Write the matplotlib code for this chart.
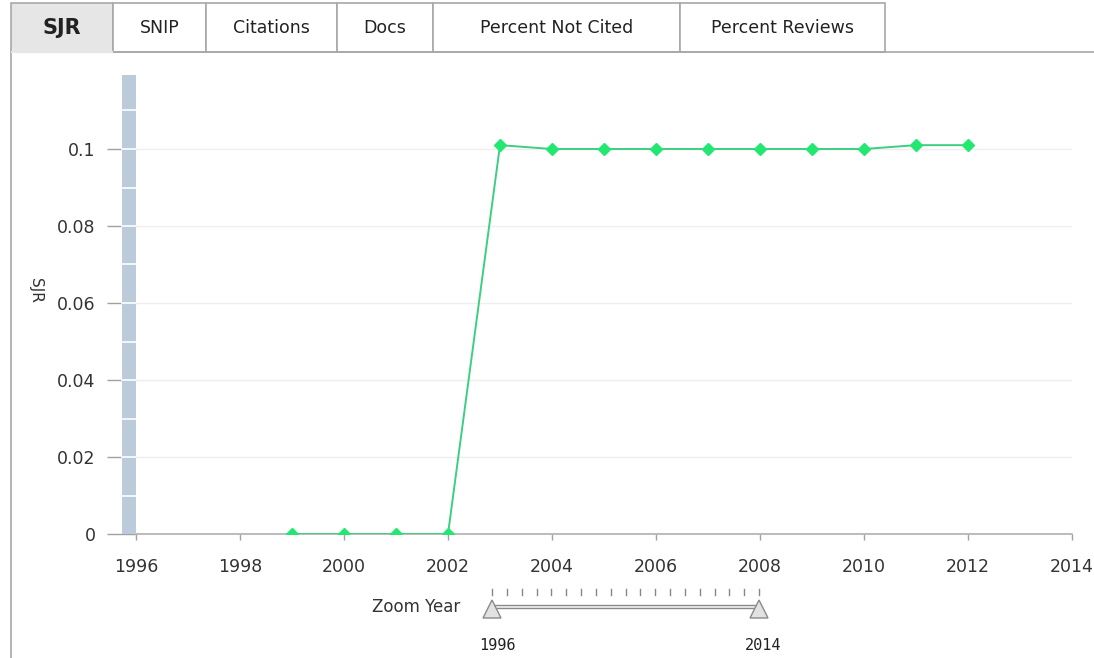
import matplotlib
matplotlib.use("Agg")
import matplotlib.pyplot as plt
from matplotlib.patches import Rectangle, Polygon
from matplotlib.lines import Line2D

# data
years = [1999, 2000, 2001, 2002, 2003, 2004, 2005, 2006, 2007, 2008, 2009, 2010, 2011, 2012]
sjr = [0, 0, 0, 0, 0.101, 0.1, 0.1, 0.1, 0.1, 0.1, 0.1, 0.1, 0.101, 0.101]
x_ticks = list(range(1996, 2015, 2))
y_ticks = [0, 0.02, 0.04, 0.06, 0.08, 0.1]
y_tick_labels = ['0', '0.02', '0.04', '0.06', '0.08', '0.1']
tabs = ['SJR', 'SNIP', 'Citations', 'Docs', 'Percent Not Cited', 'Percent Reviews']
zoom_start, zoom_end = 1996, 2014

W, H = 1094, 658
fig = plt.figure(figsize=(W / 100, H / 100), dpi=100)
plt.rcParams['font.family'] = ['DejaVu Sans']


def fx(x):
    return x / W


def fy(y):
    return 1 - y / H


# tabs along the top
tab_edges = [11, 113, 206, 337, 433, 680, 885]
for i, name in enumerate(tabs):
    x0, x1 = tab_edges[i], tab_edges[i + 1]
    active = i == 0
    fig.patches.append(Rectangle((fx(x0), fy(52)), fx(x1 - x0), 49 / H, transform=fig.transFigure,
                                 facecolor='#e6e6e6' if active else 'white', edgecolor='#a8a8a8', lw=1.2))
    fig.text(fx((x0 + x1) / 2), fy(28), name, ha='center', va='center',
             fontsize=15 if active else 12.5, fontweight='bold' if active else 'normal', color='#222222')
# panel border
fig.add_artist(Line2D([fx(113), 1], [fy(52), fy(52)], color='#a8a8a8', lw=1.2))
fig.add_artist(Line2D([fx(11), fx(11)], [fy(52), 0], color='#a8a8a8', lw=1.2))
# hide bottom edge of the active tab
fig.add_artist(Line2D([fx(12), fx(112)], [fy(52), fy(52)], color='#e6e6e6', lw=1.6))

ax = fig.add_axes([fx(136), fy(534), fx(1072 - 136), 462 / H])
ax.set_xlim(1996, 2014)
ax.set_ylim(0, 0.12)

ax.plot(years, sjr, color='#3ccf82', lw=1.4, marker='D', markersize=6.5,
        markerfacecolor='#22e872', markeredgecolor='#22e872', zorder=4, clip_on=True)

# grey scroll bar on the left side
bar_w = 14 / 52
ax.add_patch(Rectangle((1996 - bar_w, 0), bar_w, 0.1192, facecolor='#bccbd9',
                       edgecolor='none', clip_on=False, zorder=5))
for v in [0.01 * k for k in range(1, 12)]:
    ax.plot([1996 - bar_w, 1996], [v, v], color='white', lw=1.2, clip_on=False, zorder=6)

for s in ['top', 'right', 'left']:
    ax.spines[s].set_visible(False)
ax.spines['bottom'].set_color('#b0b0b0')
ax.spines['bottom'].set_linewidth(1.2)

ax.set_yticks(y_ticks)
ax.set_yticklabels(y_tick_labels)
ax.set_xticks(x_ticks)
ax.tick_params(axis='y', length=21, width=1, color='#a0a0a0', pad=8, labelsize=12.5, labelcolor='#333333')
ax.tick_params(axis='x', length=4, width=1, color='#a0a0a0', pad=13, labelsize=12.5, labelcolor='#333333')
ax.grid(axis='y', color='#efefef', lw=1)
ax.set_axisbelow(True)

fig.text(fx(35), fy(290), 'SJR', rotation=270, ha='center', va='center', fontsize=11, color='#333333')

# zoom slider
fig.text(fx(460), fy(607), 'Zoom Year', ha='right', va='center', fontsize=12, color='#333333')
sx0, sx1 = 492, 759
n = zoom_end - zoom_start + 1
for k in range(n):
    xx = sx0 + (sx1 - sx0) * k / (n - 1)
    fig.add_artist(Line2D([fx(xx), fx(xx)], [fy(589), fy(595)], color='#888888', lw=1))
fig.patches.append(Rectangle((fx(sx0), fy(608)), fx(sx1 - sx0), 3 / H, transform=fig.transFigure,
                             facecolor='#f4f4f4', edgecolor='#8a8a8a', lw=1))
for xx in [sx0, sx1]:
    fig.patches.append(Polygon([(fx(xx), fy(600)), (fx(xx - 9), fy(618)), (fx(xx + 9), fy(618))],
                               closed=True, transform=fig.transFigure,
                               facecolor='#e2e2e2', edgecolor='#8a8a8a', lw=1))
fig.text(fx(sx0 + 5), fy(645), str(zoom_start), ha='center', va='center', fontsize=11,
         family='DejaVu Sans Mono', color='#222222')
fig.text(fx(sx1 + 4), fy(645), str(zoom_end), ha='center', va='center', fontsize=11,
         family='DejaVu Sans Mono', color='#222222')

fig.savefig('out.png', dpi=100)
